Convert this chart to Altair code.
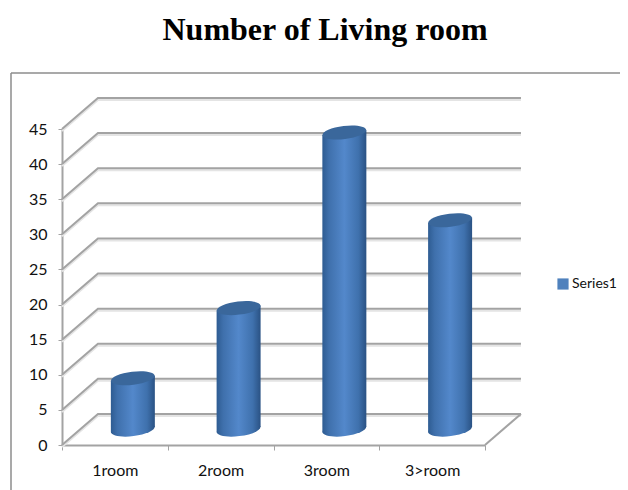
import altair as alt
import pandas as pd

categories = ["1room", "2room", "3room", "3>room"]
values = [7.3, 17.3, 42.3, 29.8]
grid_values = [0, 5, 10, 15, 20, 25, 30, 35, 40, 45]
series = "Series1"

DEPTH_X = 0.34      # category units of the receding floor
DEPTH_Y = 4.42      # value units of the receding floor
HALF_W = 0.208
TILT = 0.36
BASE = 2.2

GRID = "#A3A3A3"
xs = alt.Scale(domain=[0, 4], range=[0, 423])
ys = alt.Scale(domain=[0, 45], range=[348, 32])
y_axis = alt.Axis(values=grid_values, title=None, labelPadding=11, labelFontSize=16, labelFont="Lato",
                  labelColor="#111111", tickColor=GRID, tickSize=4, domainColor=GRID,
                  domainWidth=2, grid=False)
X = lambda f: alt.X(f, type="quantitative", scale=xs, axis=None)
Y = lambda f: alt.Y(f, type="quantitative", scale=ys, axis=y_axis)

grid_rows = []
for v in grid_values:
    grid_rows += [
        {"g": v, "o": 0, "x": 0, "y": v},
        {"g": v, "o": 1, "x": DEPTH_X, "y": v + DEPTH_Y},
        {"g": v, "o": 2, "x": 4 + DEPTH_X, "y": v + DEPTH_Y},
    ]
grid_df = pd.DataFrame(grid_rows)
floor_df = pd.DataFrame({"x": [4, 4 + DEPTH_X], "y": [0, DEPTH_Y]})

body_rows, cap_rows, base_rows = [], [], []
for i, (c, v) in enumerate(zip(categories, values)):
    cx = i + 0.5 + DEPTH_X / 2
    body_rows += [
        {"c": c, "x": cx - HALF_W, "y": v + BASE - TILT, "y2": BASE - TILT},
        {"c": c, "x": cx + HALF_W, "y": v + BASE + TILT, "y2": BASE + TILT},
    ]
    cap_rows.append({"c": c, "x": cx, "y": v + BASE})
    base_rows.append({"c": c, "x": cx, "y": BASE})
body_df, cap_df, base_df = map(pd.DataFrame, (body_rows, cap_rows, base_rows))

gradient = alt.Gradient(
    gradient="linear", x1=0, x2=1, y1=0, y2=0,
    stops=[
        alt.GradientStop(offset=0, color="#2E5C92"),
        alt.GradientStop(offset=0.15, color="#3F70AC"),
        alt.GradientStop(offset=0.5, color="#5388CB"),
        alt.GradientStop(offset=0.82, color="#3F71AD"),
        alt.GradientStop(offset=1, color="#2A5284"),
    ],
)
ELLIPSE = "M-1,0 A1,0.3 0 1,1 1,0 A1,0.3 0 1,1 -1,0 Z"

axis_layer = (
    alt.Chart(pd.DataFrame({"c": categories, "v": values, "s": [series] * 4}))
    .mark_square(size=0)
    .encode(
        x=alt.X("c:N", sort=categories, title=None,
                scale=alt.Scale(domain=categories, range=[0, 423], paddingInner=0, paddingOuter=0),
                axis=alt.Axis(labelAngle=0, tickBand="extent", labelPadding=12, labelFontSize=16,
                              labelFont="Lato", labelColor="#111111", tickColor=GRID, tickSize=5,
                              domainColor=GRID, domainWidth=2, grid=False)),
        y=Y("v"),
        color=alt.Color("s:N", title=None,
                        scale=alt.Scale(domain=[series], range=["#4F81BD"]),
                        legend=alt.Legend(orient="none", legendX=494, legendY=180, symbolType="square",
                                          symbolSize=125, symbolOpacity=1, labelFont="Lato",
                                          labelFontSize=14, labelColor="#111111", labelOffset=2)),
    )
)

shadow = alt.Chart(grid_df).mark_line(color="#E4E4E4", strokeWidth=2, yOffset=2).encode(
    x=X("x"), y=Y("y"), detail="g:N", order="o:Q")
grid = alt.Chart(grid_df).mark_line(color=GRID, strokeWidth=2).encode(
    x=X("x"), y=Y("y"), detail="g:N", order="o:Q")
floor = alt.Chart(floor_df).mark_line(color=GRID, strokeWidth=2).encode(x=X("x"), y=Y("y"))

bases = alt.Chart(base_df).mark_point(
    shape=ELLIPSE, size=1936, angle=353, filled=True, fill=gradient, opacity=1, strokeWidth=0
).encode(x=X("x"), y=Y("y"))
bodies = alt.Chart(body_df).mark_area(fill=gradient, opacity=1).encode(
    x=X("x"), y=Y("y"), y2="y2:Q", detail="c:N")
caps = alt.Chart(cap_df).mark_point(
    shape=ELLIPSE, size=1936, angle=353, filled=True, fill="#3A679B", opacity=1, strokeWidth=0
).encode(x=X("x"), y=Y("y"))

frame_left = alt.Chart(pd.DataFrame({"a": [0]})).mark_rule(color="#8C8C8C", strokeWidth=1.5).encode(
    x=alt.value(-51), y=alt.value(-24), y2=alt.value(393))
frame_top = alt.Chart(pd.DataFrame({"a": [0]})).mark_rule(color="#8C8C8C", strokeWidth=1.5).encode(
    y=alt.value(-24), x=alt.value(-51), x2=alt.value(558))

chart = (
    alt.layer(axis_layer, shadow, grid, floor, bases, bodies, caps, frame_left, frame_top)
    .resolve_scale(x="independent")
    .properties(
        width=460, height=348,
        padding={"left": 54, "top": 89, "right": 98, "bottom": 45},
        autosize=alt.AutoSizeParams(type="none"),
        title=alt.TitleParams("Number of Living room", font="Liberation Serif", fontSize=32,
                              fontWeight="bold", color="#000000", anchor="middle", dx=33, offset=25),
    )
    .configure_view(stroke=None)
)

chart.save("out.html", embed_options={"renderer": "svg", "actions": False})
